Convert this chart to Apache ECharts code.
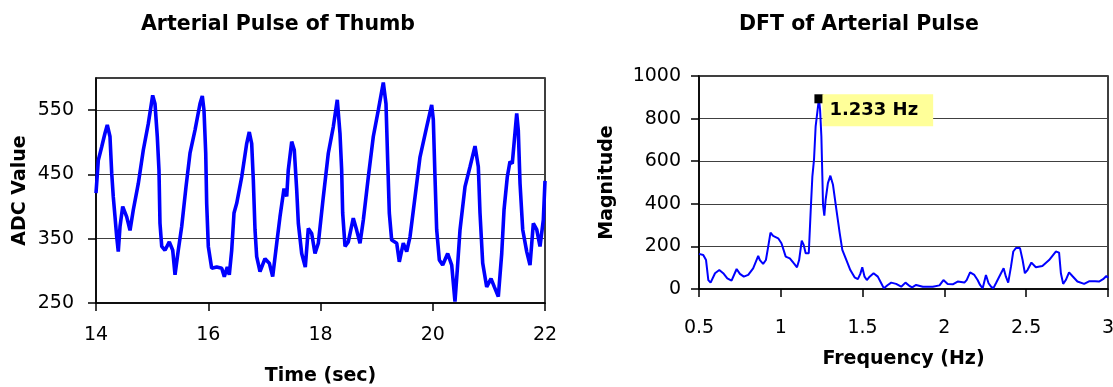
<!DOCTYPE html>
<html>
<head>
<meta charset="utf-8">
<script src="https://cdn.jsdelivr.net/npm/echarts@6/dist/echarts.min.js"></script>
<style>
  html, body { margin: 0; padding: 0; background: #fff; }
  #chart { width: 1113px; height: 387px; }
</style>
</head>
<body>
<div id="chart"></div>
<script>
// arterial pulse
var pulseTime = [14.000, 14.041, 14.102, 14.160, 14.201, 14.249, 14.280, 14.308, 14.339, 14.369,
  14.397, 14.428, 14.476, 14.547, 14.606, 14.665, 14.754, 14.843, 14.932, 15.010,
  15.051, 15.092, 15.122, 15.140, 15.171, 15.229, 15.306, 15.367, 15.408, 15.466,
  15.527, 15.604, 15.675, 15.764, 15.853, 15.894, 15.924, 15.955, 15.972, 16.001,
  16.061, 16.151, 16.240, 16.286, 16.339, 16.375, 16.418, 16.459, 16.507, 16.596,
  16.685, 16.731, 16.774, 16.803, 16.833, 16.863, 16.922, 17.011, 17.088, 17.148,
  17.220, 17.278, 17.350, 17.398, 17.426, 17.487, 17.533, 17.576, 17.605, 17.665,
  17.729, 17.783, 17.843, 17.902, 17.961, 18.050, 18.139, 18.228, 18.299, 18.347,
  18.377, 18.395, 18.437, 18.495, 18.584, 18.645, 18.704, 18.763, 18.852, 18.941,
  19.030, 19.119, 19.167, 19.197, 19.226, 19.268, 19.358, 19.404, 19.475, 19.536,
  19.595, 19.684, 19.773, 19.892, 19.981, 20.010, 20.040, 20.070, 20.117, 20.177,
  20.266, 20.338, 20.396, 20.437, 20.486, 20.575, 20.664, 20.753, 20.812, 20.842,
  20.890, 20.961, 21.038, 21.097, 21.168, 21.229, 21.270, 21.328, 21.376, 21.417,
  21.496, 21.524, 21.555, 21.603, 21.674, 21.733, 21.792, 21.853, 21.911, 21.970,
  22.000];
var pulseValue = [421, 472, 493, 514, 527, 509, 452, 415, 384, 353,
  330, 369, 400, 384, 363, 395, 436, 488, 529, 573,
  560, 509, 457, 374, 338, 332, 345, 332, 294, 332,
  369, 431, 483, 519, 560, 572, 550, 483, 405, 338,
  304, 306, 304, 291, 306, 294, 332, 390, 405, 446,
  498, 516, 498, 441, 364, 322, 299, 319, 312, 291,
  343, 384, 428, 416, 457, 501, 488, 426, 374, 327,
  306, 366, 358, 327, 343, 415, 483, 524, 566, 514,
  457, 390, 338, 345, 382, 363, 343, 379, 446, 509,
  550, 593, 560, 472, 390, 348, 343, 314, 343, 330,
  353, 415, 477, 524, 558, 535, 446, 364, 317, 309,
  327, 309, 252, 301, 364, 431, 462, 494, 462, 390,
  312, 275, 288, 275, 260, 327, 395, 446, 470, 467,
  545, 519, 436, 364, 330, 309, 374, 364, 338, 379,
  440];

// DFT magnitude
var freqHz = [0.500, 0.526, 0.543, 0.557, 0.571, 0.598, 0.624, 0.648, 0.673, 0.699,
  0.730, 0.750, 0.774, 0.801, 0.831, 0.862, 0.872, 0.892, 0.909, 0.923,
  0.937, 0.953, 0.984, 1.004, 1.030, 1.055, 1.079, 1.099, 1.112, 1.128,
  1.140, 1.152, 1.171, 1.183, 1.193, 1.203, 1.213, 1.233, 1.240, 1.248,
  1.254, 1.258, 1.266, 1.274, 1.288, 1.303, 1.319, 1.340, 1.360, 1.376,
  1.401, 1.425, 1.451, 1.471, 1.486, 1.498, 1.512, 1.526, 1.543, 1.567,
  1.593, 1.614, 1.630, 1.654, 1.675, 1.705, 1.736, 1.762, 1.787, 1.803,
  1.827, 1.868, 1.929, 1.970, 1.994, 2.020, 2.051, 2.081, 2.122, 2.136,
  2.157, 2.183, 2.203, 2.218, 2.234, 2.254, 2.270, 2.285, 2.299, 2.315,
  2.346, 2.362, 2.376, 2.390, 2.407, 2.421, 2.437, 2.462, 2.478, 2.492,
  2.508, 2.532, 2.559, 2.599, 2.640, 2.681, 2.701, 2.712, 2.726, 2.742,
  2.762, 2.782, 2.813, 2.854, 2.884, 2.921, 2.945, 2.970, 2.990, 3.000];
var magnitude = [165, 160, 136, 42, 30, 74, 89, 74, 50, 39,
  94, 71, 58, 66, 97, 155, 136, 118, 136, 199,
  265, 249, 238, 215, 152, 144, 121, 102, 136, 227,
  207, 168, 168, 372, 529, 607, 764, 893, 842, 717,
  529, 395, 344, 419, 497, 532, 489, 372, 262, 184,
  136, 89, 55, 46, 71, 102, 58, 42, 58, 74,
  58, 27, 3, 19, 30, 24, 11, 30, 14, 8,
  19, 11, 11, 17, 42, 24, 22, 35, 30, 42,
  78, 66, 42, 19, 3, 66, 27, 11, 3, 27,
  74, 97, 58, 30, 105, 176, 192, 192, 136, 74,
  89, 124, 102, 108, 136, 176, 171, 74, 24, 42,
  78, 61, 35, 24, 36, 36, 35, 46, 61, 52];

var peakFreq = [1.233];
var peakMag = [893];
var peakLabel = '1.233 Hz';

var FONT = 'DejaVu Sans';

function toPairs(xs, ys) {
  return xs.map(function (x, i) { return [x, ys[i]]; });
}

function valueAxis(gridIndex, opt) {
  return Object.assign({
    type: 'value',
    gridIndex: gridIndex,
    nameLocation: 'middle',
    nameTextStyle: { fontFamily: FONT, fontSize: 19, fontWeight: 'bold', color: '#000' },
    axisLine: { show: true, lineStyle: { color: '#000', width: 1.5 } },
    axisTick: { show: true, length: 8, lineStyle: { color: '#000', width: 1.5 } },
    splitLine: { show: false }
  }, opt);
}

function tickLabels(margin, extra) {
  return Object.assign({
    fontFamily: FONT, fontSize: 19, color: '#000', margin: margin,
    formatter: function (v) { return String(v); }
  }, extra || {});
}

var chart = echarts.init(document.getElementById('chart'));
chart.setOption({
  animation: false,
  backgroundColor: '#fff',
  title: [
    { text: 'Arterial Pulse of Thumb', left: 273, top: 9, textAlign: 'center',
      textStyle: { fontFamily: FONT, fontSize: 20.5, fontWeight: 'bold', color: '#000' } },
    { text: 'DFT of Arterial Pulse', left: 854, top: 9, textAlign: 'center',
      textStyle: { fontFamily: FONT, fontSize: 20.5, fontWeight: 'bold', color: '#000' } }
  ],
  grid: [
    { left: 96, top: 78, width: 449, height: 225, outerBoundsMode: 'none',
      show: true, borderColor: '#000', borderWidth: 1.5 },
    { left: 699, top: 76, width: 409, height: 213, outerBoundsMode: 'none',
      show: true, borderColor: '#000', borderWidth: 1.5 }
  ],
  xAxis: [
    valueAxis(0, { min: 14, max: 22, interval: 2, name: 'Time (sec)', nameGap: 64,
      axisLabel: tickLabels(23) }),
    valueAxis(1, { min: 0.5, max: 3, interval: 0.5, name: 'Frequency (Hz)', nameGap: 61,
      axisLabel: tickLabels(30) })
  ],
  yAxis: [
    valueAxis(0, { min: 250, max: 600, interval: 100, name: 'ADC Value', nameGap: 66,
      axisLabel: tickLabels(22, { showMaxLabel: false }),
      splitLine: { show: true, lineStyle: { color: '#404040', width: 1 } } }),
    valueAxis(1, { min: 0, max: 1000, interval: 200, name: 'Magnitude', nameGap: 82,
      axisLabel: tickLabels(18),
      splitLine: { show: true, lineStyle: { color: '#404040', width: 1 } } })
  ],
  series: [
    {
      type: 'line', xAxisIndex: 0, yAxisIndex: 0,
      data: toPairs(pulseTime, pulseValue),
      showSymbol: false,
      lineStyle: { color: '#0000ff', width: 3.6 }
    },
    {
      type: 'line', xAxisIndex: 1, yAxisIndex: 1,
      data: toPairs(freqHz, magnitude),
      showSymbol: false,
      lineStyle: { color: '#0000ff', width: 2 }
    },
    {
      type: 'scatter', xAxisIndex: 1, yAxisIndex: 1,
      data: toPairs(peakFreq, peakMag),
      symbol: 'rect', symbolSize: 9,
      itemStyle: { color: '#000', opacity: 1 },
      z: 5,
      label: {
        show: true,
        formatter: peakLabel,
        position: [8, 0],
        align: 'left',
        verticalAlign: 'top',
        fontFamily: FONT, fontSize: 18, fontWeight: 'bold', color: '#000',
        lineHeight: 20,
        backgroundColor: '#ffff99',
        padding: [6, 15, 6, 7]
      }
    }
  ]
});
</script>
</body>
</html>
